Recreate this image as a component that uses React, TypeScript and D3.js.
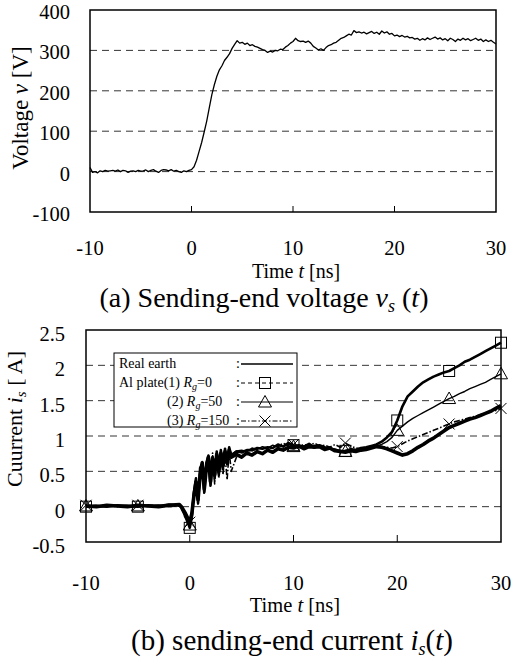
import React from "react";
import * as d3 from "d3";

// ---------- data ----------
const V_TICKS = [-100, 0, 100, 200, 300, 400];
const V_GRID = [0, 100, 200, 300];
const T_TICKS = [-10, 0, 10, 20, 30];
const I_TICKS = [-0.5, 0, 0.5, 1, 1.5, 2, 2.5];
const I_TICK_LABELS = ["-0.5", "0", "0.5", "1", "1.5", "2", "2.5"];
const I_GRID = [0, 0.5, 1, 1.5, 2];

// sending-end voltage, sampled every 0.25 ns from -10 ns
const VOLTAGE = [
  10, -2, 0, -3, 2, 0, 3, 1,
  2, 3, 1, 4, 0, 3, 2, -2,
  1, 2, 0, 3, 1, 2, 4, 0,
  3, 5, 1, -2, 3, 5, 4, 2,
  5, 1, 3, 0, -2, 2, 0, 3,
  5, 12, 28, 50, 72, 98, 125, 158,
  190, 215, 236, 252, 262, 275, 283, 292,
  305, 315, 324, 318, 320, 315, 318, 312,
  314, 310, 308, 305, 302, 300, 295, 298,
  296, 300, 299, 303, 302, 308, 312, 318,
  322, 330, 324, 322, 323, 320, 323, 318,
  310, 306, 301, 304, 300, 307, 312, 314,
  318, 320, 325, 330, 332, 336, 340, 338,
  349, 344, 346, 343, 345, 341, 344, 347,
  342, 345, 340, 348, 343, 346, 340, 342,
  336, 338, 334, 337, 333, 335, 331, 332,
  328, 330, 325, 329, 326, 331, 327, 330,
  333, 328, 331, 326, 329, 324, 330, 327,
  322, 328, 325, 330, 326, 329, 324, 327,
  330, 325, 328, 322, 326, 322, 325, 320,
  316,
];
const VOLTAGE_T = VOLTAGE.map((_, i) => -10 + i * 0.25);

const CURRENT_T = [
  -10, -9, -8, -7, -6, -5, -4, -3, -2, -1,
  -0.8, -0.6, -0.4, -0.2, 0, 0.2, 0.4, 0.6, 0.8, 1, 1.2, 1.4, 1.6, 1.8, 2, 2.2, 2.4, 2.6, 2.8, 3, 3.2, 3.4, 3.6, 3.8, 4,
  4.5, 5, 5.5, 6, 6.5, 7, 7.5, 8, 8.5, 9, 9.5, 10, 10.5, 11, 11.5, 12, 12.5, 13, 13.5, 14, 14.5, 15, 15.5, 16, 16.5, 17, 17.5, 18,
  18.5, 19, 19.5, 20, 20.5, 21, 21.5, 22, 22.5, 23, 23.5, 24, 24.5, 25, 25.5, 26, 26.5, 27, 27.5, 28, 28.5, 29, 29.5, 30,
];

const REAL_EARTH = [
  0.01, 0.0, 0.02, 0.01, 0.0, 0.02, 0.01, 0.0, 0.02, 0.03,
  0.0, -0.05, -0.1, -0.16, -0.22, -0.1, 0.15, 0.35, 0.1, 0.45, 0.62, 0.25, 0.55, 0.7, 0.35, 0.68, 0.45, 0.74, 0.5, 0.76, 0.58, 0.78, 0.62, 0.8, 0.7,
  0.74, 0.7, 0.76, 0.73, 0.78, 0.75, 0.8, 0.77, 0.82, 0.8, 0.84, 0.83, 0.86, 0.82, 0.85, 0.84, 0.85, 0.81, 0.83, 0.79, 0.78, 0.77, 0.79, 0.78, 0.8, 0.81, 0.83, 0.85,
  0.84, 0.82, 0.79, 0.76, 0.73, 0.75, 0.79, 0.84, 0.88, 0.93, 0.97, 1.02, 1.07, 1.12, 1.15, 1.18, 1.21, 1.24, 1.26, 1.29, 1.32, 1.35, 1.39, 1.43,
];
const AL_RG0 = [
  0.0, 0.01, 0.0, 0.02, 0.01, 0.0, 0.02, 0.01, 0.03, 0.02,
  -0.02, -0.08, -0.15, -0.22, -0.3, -0.15, 0.2, 0.4, 0.05, 0.55, 0.6, 0.2, 0.62, 0.72, 0.3, 0.7, 0.4, 0.78, 0.45, 0.8, 0.55, 0.82, 0.6, 0.84, 0.72,
  0.78, 0.77, 0.8, 0.8, 0.83, 0.82, 0.84, 0.83, 0.88, 0.85, 0.9, 0.87, 0.86, 0.85, 0.89, 0.84, 0.87, 0.84, 0.82, 0.81, 0.78, 0.79, 0.81, 0.8, 0.83, 0.84, 0.86, 0.88,
  0.92, 0.98, 1.06, 1.22, 1.42, 1.56, 1.63, 1.7, 1.76, 1.8, 1.84, 1.87, 1.9, 1.92, 1.96, 2.0, 2.05, 2.08, 2.12, 2.16, 2.2, 2.24, 2.28, 2.32,
];
const AL_RG50 = [
  0.01, 0.02, 0.0, 0.01, 0.02, 0.01, 0.0, 0.02, 0.01, 0.02,
  0.0, -0.06, -0.12, -0.19, -0.26, -0.05, 0.25, 0.3, 0.12, 0.5, 0.58, 0.22, 0.6, 0.66, 0.4, 0.72, 0.48, 0.76, 0.55, 0.77, 0.6, 0.8, 0.66, 0.82, 0.74,
  0.79, 0.8, 0.78, 0.83, 0.81, 0.85, 0.83, 0.87, 0.84, 0.86, 0.88, 0.85, 0.87, 0.86, 0.84, 0.87, 0.85, 0.83, 0.82, 0.8, 0.8, 0.78, 0.82, 0.81, 0.82, 0.83, 0.85, 0.86,
  0.88, 0.92, 0.98, 1.08, 1.14, 1.2, 1.25, 1.29, 1.33, 1.37, 1.41, 1.45, 1.49, 1.53, 1.56, 1.6, 1.63, 1.67, 1.7, 1.73, 1.76, 1.8, 1.84, 1.88,
];
const AL_RG150 = [
  0.02, 0.01, 0.02, 0.0, 0.01, 0.02, 0.01, 0.02, 0.0, 0.01,
  0.01, -0.04, -0.1, -0.17, -0.22, -0.08, 0.18, 0.38, 0.02, 0.48, 0.64, 0.18, 0.52, 0.74, 0.28, 0.76, 0.32, 0.72, 0.4, 0.75, 0.45, 0.74, 0.38, 0.78, 0.5,
  0.7, 0.76, 0.8, 0.79, 0.82, 0.84, 0.82, 0.86, 0.85, 0.9, 0.86, 0.88, 0.85, 0.88, 0.86, 0.9, 0.86, 0.87, 0.84, 0.88, 0.84, 0.9, 0.86, 0.83, 0.82, 0.84, 0.85, 0.86,
  0.85, 0.84, 0.83, 0.85, 0.89, 0.93, 0.96, 0.99, 1.02, 1.05, 1.08, 1.11, 1.14, 1.17, 1.2, 1.22, 1.24, 1.26, 1.28, 1.3, 1.32, 1.34, 1.36, 1.39,
];
const MARKER_T = [-10, -5, 0, 10, 15, 20, 25, 30];

const FONT = "'Liberation Serif', 'Times New Roman', serif";

type Series = { name: string; values: number[]; width: number; dash?: string; legendDash?: string; marker?: "square" | "triangle" | "cross" };
const SERIES: Series[] = [
  { name: "Real earth", values: REAL_EARTH, width: 3.6 },
  { name: "Rg=0", values: AL_RG0, width: 2.6, legendDash: "4,3", marker: "square" },
  { name: "Rg=50", values: AL_RG50, width: 1.4, marker: "triangle" },
  { name: "Rg=150", values: AL_RG150, width: 1.6, dash: "6,2,1.5,2", legendDash: "5,2,1.5,2", marker: "cross" },
];

function Marker({ kind, x, y }: { kind?: string; x: number; y: number }) {
  if (kind === "square")
    return <rect x={x - 5.5} y={y - 5.5} width={11} height={11} fill="none" stroke="#000" strokeWidth={1} />;
  if (kind === "triangle")
    return <path d={`M${x},${y - 6.5}L${x + 6.5},${y + 5}L${x - 6.5},${y + 5}Z`} fill="none" stroke="#000" strokeWidth={1} />;
  if (kind === "cross")
    return <path d={`M${x - 5.5},${y - 5.5}L${x + 5.5},${y + 5.5}M${x - 5.5},${y + 5.5}L${x + 5.5},${y - 5.5}`} fill="none" stroke="#000" strokeWidth={1} />;
  return null;
}

export default function App() {
  const W = 511, H = 660;
  // top panel
  const xA = d3.scaleLinear().domain([-10, 30]).range([90, 496]);
  const yA = d3.scaleLinear().domain([-100, 400]).range([212, 10]);
  // bottom panel
  const xB = d3.scaleLinear().domain([-10, 30]).range([86, 501]);
  const yB = d3.scaleLinear().domain([-0.5, 2.5]).range([542, 330]);

  const vLine = d3.line<number>().x((_, i) => xA(VOLTAGE_T[i])).y((d) => yA(d));
  const iLine = d3.line<number>().x((_, i) => xB(CURRENT_T[i])).y((d) => yB(d));

  const tickFs = 20.5;

  return (
    <svg width={W} height={H} style={{ position: "absolute", left: 0, top: 0, background: "#fff" }} fontFamily={FONT}>
      <rect x={0} y={0} width={W} height={H} fill="#fff" />
      {/* ===== Top panel ===== */}
      {V_GRID.map((v) => (
        <line key={v} x1={xA(-10)} x2={xA(30)} y1={yA(v)} y2={yA(v)} stroke="#000" strokeWidth={0.8} strokeDasharray="7,5" />
      ))}
      {[0, 10, 20].map((t) => (
        <line key={t} x1={xA(t)} x2={xA(t)} y1={yA(-100)} y2={yA(-100) - 6} stroke="#000" strokeWidth={1} />
      ))}
      <path d={vLine(VOLTAGE) || ""} fill="none" stroke="#000" strokeWidth={1.3} strokeLinejoin="round" />
      <rect x={xA(-10)} y={yA(400)} width={xA(30) - xA(-10)} height={yA(-100) - yA(400)} fill="none" stroke="#000" strokeWidth={1.5} />
      {V_TICKS.map((v) => (
        <text key={v} x={70} y={yA(v) + 9} textAnchor="end" fontSize={tickFs}>{v}</text>
      ))}
      {T_TICKS.map((t) => (
        <text key={t} x={xA(t)} y={255} textAnchor="middle" fontSize={tickFs}>{t}</text>
      ))}
      <text x={296} y={278} textAnchor="middle" fontSize={20}>
        Time <tspan fontStyle="italic">t</tspan> [ns]
      </text>
      <text x={264} y={307} textAnchor="middle" fontSize={28}>
        (a) Sending-end voltage <tspan fontStyle="italic">v</tspan>
        <tspan fontStyle="italic" fontSize={18} dy={5}>s</tspan>
        <tspan dy={-5}> (</tspan><tspan fontStyle="italic">t</tspan>)
      </text>
      <text transform={`translate(28,${108}) rotate(-90)`} textAnchor="middle" fontSize={23}>
        Voltage  <tspan fontStyle="italic">v</tspan> [V]
      </text>

      {/* ===== Bottom panel ===== */}
      {I_GRID.map((v) => (
        <line key={v} x1={xB(-10)} x2={xB(30)} y1={yB(v)} y2={yB(v)} stroke="#000" strokeWidth={0.8} strokeDasharray="7,5" />
      ))}
      {[0, 10, 20].map((t) => (
        <line key={t} x1={xB(t)} x2={xB(t)} y1={yB(-0.5)} y2={yB(-0.5) - 7} stroke="#000" strokeWidth={1} />
      ))}
      {SERIES.map((s) => (
        <path key={s.name} d={iLine(s.values) || ""} fill="none" stroke="#000" strokeWidth={s.width}
          strokeDasharray={s.dash} strokeLinejoin="round" />
      ))}
      {SERIES.map((s) =>
        s.marker
          ? CURRENT_T.map((t, i) =>
              MARKER_T.includes(t) ? <Marker key={s.name + t} kind={s.marker} x={xB(t)} y={yB(s.values[i])} /> : null
            )
          : null
      )}
      <rect x={xB(-10)} y={yB(2.5)} width={xB(30) - xB(-10)} height={yB(-0.5) - yB(2.5)} fill="none" stroke="#000" strokeWidth={1.5} />
      {I_TICKS.map((v, i) => (
        <text key={v} x={65} y={yB(v) + 11} textAnchor="end" fontSize={tickFs}>{I_TICK_LABELS[i]}</text>
      ))}
      {T_TICKS.map((t) => (
        <text key={t} x={xB(t)} y={590} textAnchor="middle" fontSize={tickFs}>{t}</text>
      ))}
      <text x={295} y={612} textAnchor="middle" fontSize={20.5}>
        Time <tspan fontStyle="italic">t</tspan> [ns]
      </text>
      <text x={292} y={650} textAnchor="middle" fontSize={29}>
        (b) sending-end current <tspan fontStyle="italic">i</tspan>
        <tspan fontStyle="italic" fontSize={18} dy={5}>s</tspan>
        <tspan dy={-5}>(</tspan><tspan fontStyle="italic">t</tspan>)
      </text>
      <text transform={`translate(22,${419}) rotate(-90)`} textAnchor="middle" fontSize={22}>
        Cuurrent  <tspan fontStyle="italic">i</tspan>
        <tspan fontStyle="italic" fontSize={15} dy={4}>s</tspan>
        <tspan dy={-4}> [ A]</tspan>
      </text>

      {/* legend */}
      <g fontSize={14}>
        <rect x={114} y={353} width={183} height={74} fill="#fff" stroke="#000" strokeWidth={1} />
        <text x={119} y={368}>Real earth</text>
        <text x={119} y={387}>Al plate(1) <tspan fontStyle="italic">R</tspan><tspan fontStyle="italic" fontSize={10} dy={3}>g</tspan><tspan dy={-3}>=0</tspan></text>
        <text x={167} y={406}>(2) <tspan fontStyle="italic">R</tspan><tspan fontStyle="italic" fontSize={10} dy={3}>g</tspan><tspan dy={-3}>=50</tspan></text>
        <text x={167} y={425}>(3) <tspan fontStyle="italic">R</tspan><tspan fontStyle="italic" fontSize={10} dy={3}>g</tspan><tspan dy={-3}>=150</tspan></text>
        {SERIES.map((s, i) => {
          const y = 364 + i * 19;
          return (
            <g key={s.name}>
              <text x={236} y={y + 4}>:</text>
              <line x1={241} x2={293} y1={y} y2={y} stroke="#000" strokeWidth={i === 0 ? 1.4 : 1}
                strokeDasharray={s.legendDash} />
              <Marker kind={s.marker} x={265} y={y} />
            </g>
          );
        })}
      </g>
    </svg>
  );
}
